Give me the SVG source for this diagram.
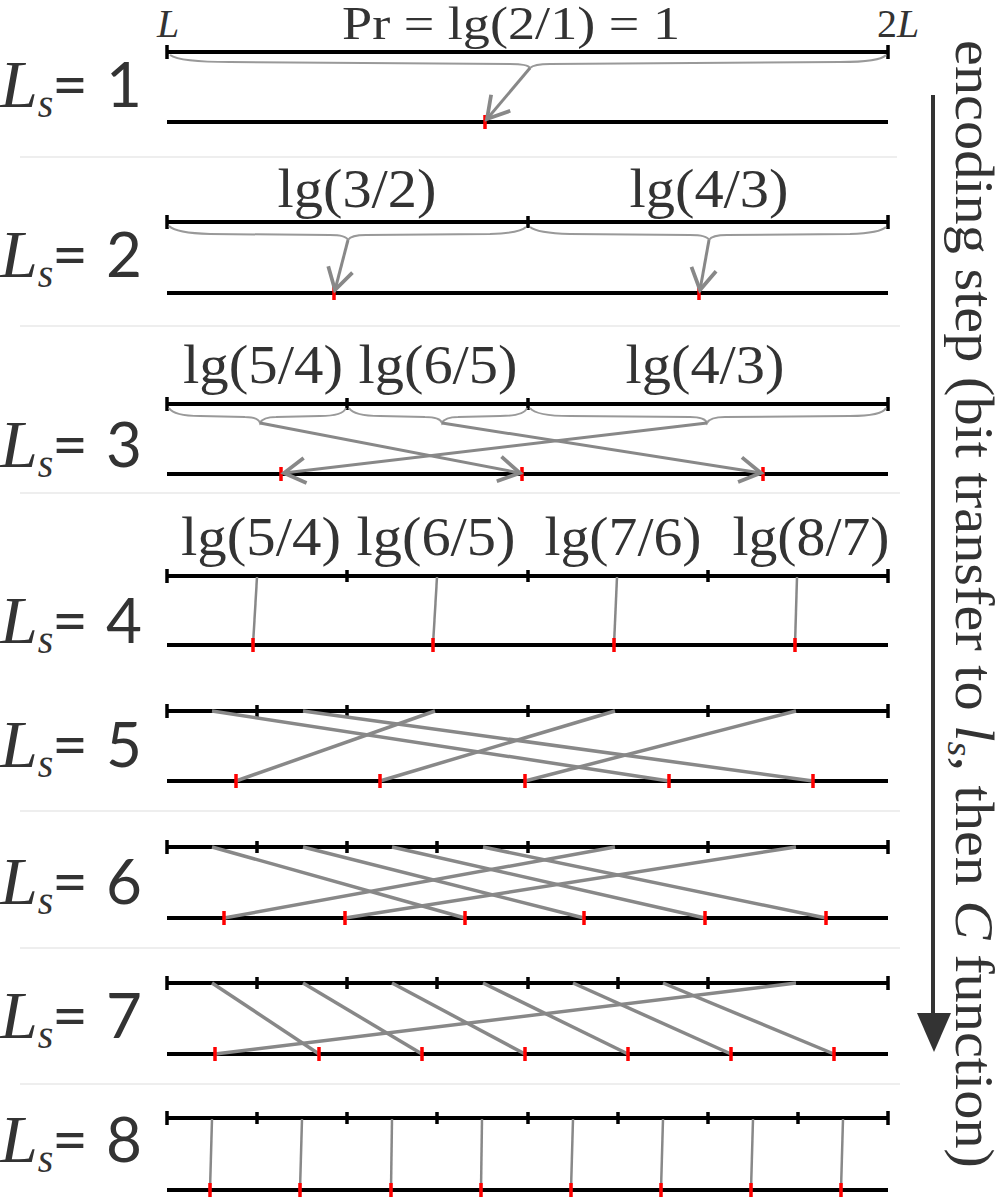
<svg xmlns="http://www.w3.org/2000/svg" width="1005" height="1198" viewBox="0 0 1005 1198">
<style>
.bar{stroke:#000;stroke-width:4;fill:none}
.tk{stroke:#000;stroke-width:3.5}
.rd{stroke:#f00;stroke-width:3.5}
.sep{stroke:#e8e8e8;stroke-width:1.5}
.br{stroke:#999;stroke-width:2;fill:none}
.ln{stroke:#888;stroke-width:3.5;fill:none}
.ln4{stroke:#888;stroke-width:2.5;fill:none}
.ar{stroke:#888;stroke-width:3;fill:none;marker-end:url(#ah)}
.lab{font-family:"Liberation Serif",serif;font-size:54px;fill:#333}
.big{font-family:"Liberation Serif",serif;font-size:68px;fill:#333;font-style:italic}
.sub{font-size:40px}
.num{font-family:Lato,"Liberation Sans",sans-serif;font-style:normal;font-size:62px}
</style>
<defs>
<marker id="ah" markerUnits="userSpaceOnUse" markerWidth="30" markerHeight="30" refX="20" refY="12" orient="auto" viewBox="0 0 24 24">
<path d="M3,2 L20,12 L3,22" fill="none" stroke="#888" stroke-width="3"/>
</marker>
</defs>
<rect width="1005" height="1198" fill="#fff"/>

<g id="separators">
<line class="sep" x1="20" y1="157" x2="897" y2="157"/>
<line class="sep" x1="20" y1="326" x2="900" y2="326"/>
<line class="sep" x1="20" y1="493" x2="900" y2="493"/>
<line class="sep" x1="20" y1="811" x2="900" y2="811"/>
<line class="sep" x1="20" y1="948" x2="900" y2="948"/>
<line class="sep" x1="20" y1="1084" x2="900" y2="1084"/>
</g>

<g id="row1">
<text class="big" x="0" y="107">L<tspan class="sub" dy="10">s</tspan><tspan class="num" x="52" dy="-10">=</tspan><tspan class="num" x="106">1</tspan></text>
<text class="lab" x="157" y="37" font-style="italic" style="font-size:40px">L</text>
<text class="lab" x="877" y="37" style="font-size:40px">2<tspan font-style="italic">L</tspan></text>
<text class="lab" x="342" y="39" style="font-size:46px" textLength="338" lengthAdjust="spacingAndGlyphs">Pr = lg(2/1) = 1</text>
<line class="bar" x1="167" y1="52" x2="888" y2="52"/>
<line class="tk" x1="167" y1="45" x2="167" y2="59"/>
<line class="tk" x1="888" y1="45" x2="888" y2="59"/>
<path class="br" d="M170,55 Q180,62 230,62 L510,64 Q528,64 530,68 Q534,64 550,64 L840,62 Q880,62 886,55"/>
<line class="bar" x1="167" y1="122" x2="888" y2="122"/>
<line class="rd" x1="485" y1="115" x2="485" y2="129"/>
</g>

<g id="row2">
<text class="big" x="0" y="277">L<tspan class="sub" dy="10">s</tspan><tspan class="num" x="52" dy="-10">=</tspan><tspan class="num" x="106">2</tspan></text>
<text class="lab" x="357" y="207" text-anchor="middle" textLength="159" lengthAdjust="spacingAndGlyphs">lg(3/2)</text>
<text class="lab" x="709" y="207" text-anchor="middle" textLength="159" lengthAdjust="spacingAndGlyphs">lg(4/3)</text>
<line class="bar" x1="167" y1="222" x2="888" y2="222"/>
<line class="tk" x1="167" y1="215" x2="167" y2="229"/>
<line class="tk" x1="528" y1="216" x2="528" y2="228"/>
<line class="tk" x1="888" y1="215" x2="888" y2="229"/>
<path class="br" d="M169,226 Q176,233 210,234 L330,235 Q346,235 348,240 Q351,235 366,235 L490,234 Q520,233 526,227"/>
<path class="br" d="M530,227 Q537,233 570,234 L690,235 Q707,235 709,240 Q712,235 727,235 L850,234 Q880,233 886,227"/>
<line class="bar" x1="167" y1="293" x2="888" y2="293"/>
<line class="rd" x1="334" y1="286" x2="334" y2="300"/>
<line class="rd" x1="699" y1="286" x2="699" y2="300"/>
</g>

<g id="row3">
<text class="big" x="0" y="467">L<tspan class="sub" dy="10">s</tspan><tspan class="num" x="52" dy="-10">=</tspan><tspan class="num" x="106">3</tspan></text>
<text class="lab" x="263" y="383" text-anchor="middle" textLength="160" lengthAdjust="spacingAndGlyphs">lg(5/4)</text>
<text class="lab" x="438" y="383" text-anchor="middle" textLength="159" lengthAdjust="spacingAndGlyphs">lg(6/5)</text>
<text class="lab" x="705" y="383" text-anchor="middle" textLength="159" lengthAdjust="spacingAndGlyphs">lg(4/3)</text>
<line class="bar" x1="167" y1="404" x2="888" y2="404"/>
<line class="tk" x1="167" y1="397" x2="167" y2="411"/>
<line class="tk" x1="347" y1="398" x2="347" y2="410"/>
<line class="tk" x1="528" y1="398" x2="528" y2="410"/>
<line class="tk" x1="888" y1="397" x2="888" y2="411"/>
<path class="br" d="M169,408 Q174,416 200,416 L245,417 Q258,417 260,423 Q263,417 276,417 L320,416 Q343,416 346,408"/>
<path class="br" d="M349,408 Q354,416 380,416 L425,417 Q440,417 442,423 Q445,417 458,417 L500,416 Q524,416 527,408"/>
<path class="br" d="M530,408 Q536,416 570,416 L690,417 Q705,417 707,423 Q710,417 725,417 L850,416 Q882,416 886,408"/>
<line class="bar" x1="167" y1="474" x2="888" y2="474"/>
<line class="rd" x1="281" y1="467" x2="281" y2="481"/>
<line class="rd" x1="522" y1="467" x2="522" y2="481"/>
<line class="rd" x1="763" y1="467" x2="763" y2="481"/>
</g>

<g id="row4">
<text class="big" x="0" y="643">L<tspan class="sub" dy="10">s</tspan><tspan class="num" x="52" dy="-10">=</tspan><tspan class="num" x="106">4</tspan></text>
<text class="lab" x="261" y="555" text-anchor="middle" textLength="160" lengthAdjust="spacingAndGlyphs">lg(5/4)</text>
<text class="lab" x="436" y="555" text-anchor="middle" textLength="159" lengthAdjust="spacingAndGlyphs">lg(6/5)</text>
<text class="lab" x="623" y="555" text-anchor="middle" textLength="157" lengthAdjust="spacingAndGlyphs">lg(7/6)</text>
<text class="lab" x="811" y="555" text-anchor="middle" textLength="157" lengthAdjust="spacingAndGlyphs">lg(8/7)</text>
<line class="bar" x1="167" y1="576" x2="888" y2="576"/>
<line class="tk" x1="167" y1="569" x2="167" y2="583"/>
<line class="tk" x1="347" y1="570" x2="347" y2="582"/>
<line class="tk" x1="528" y1="570" x2="528" y2="582"/>
<line class="tk" x1="708" y1="570" x2="708" y2="582"/>
<line class="tk" x1="888" y1="569" x2="888" y2="583"/>
<line class="bar" x1="167" y1="645" x2="888" y2="645"/>
</g>

<g id="row5">
<text class="big" x="0" y="767">L<tspan class="sub" dy="10">s</tspan><tspan class="num" x="52" dy="-10">=</tspan><tspan class="num" x="106">5</tspan></text>
<line class="bar" x1="167" y1="711" x2="888" y2="711"/>
<line class="tk" x1="167" y1="704" x2="167" y2="718"/>
<line class="tk" x1="257" y1="705" x2="257" y2="717"/>
<line class="tk" x1="347" y1="705" x2="347" y2="717"/>
<line class="tk" x1="528" y1="705" x2="528" y2="717"/>
<line class="tk" x1="708" y1="705" x2="708" y2="717"/>
<line class="tk" x1="888" y1="704" x2="888" y2="718"/>
<line class="bar" x1="167" y1="781" x2="888" y2="781"/>
</g>

<g id="row6">
<text class="big" x="0" y="904">L<tspan class="sub" dy="10">s</tspan><tspan class="num" x="52" dy="-10">=</tspan><tspan class="num" x="106">6</tspan></text>
<line class="bar" x1="167" y1="847" x2="888" y2="847"/>
<line class="tk" x1="167" y1="840" x2="167" y2="854"/>
<line class="tk" x1="257" y1="841" x2="257" y2="853"/>
<line class="tk" x1="347" y1="841" x2="347" y2="853"/>
<line class="tk" x1="437" y1="841" x2="437" y2="853"/>
<line class="tk" x1="528" y1="841" x2="528" y2="853"/>
<line class="tk" x1="708" y1="841" x2="708" y2="853"/>
<line class="tk" x1="888" y1="840" x2="888" y2="854"/>
<line class="bar" x1="167" y1="918" x2="888" y2="918"/>
</g>

<g id="row7">
<text class="big" x="0" y="1038">L<tspan class="sub" dy="10">s</tspan><tspan class="num" x="52" dy="-10">=</tspan><tspan class="num" x="106">7</tspan></text>
<line class="bar" x1="167" y1="983" x2="888" y2="983"/>
<line class="tk" x1="167" y1="976" x2="167" y2="990"/>
<line class="tk" x1="257" y1="977" x2="257" y2="989"/>
<line class="tk" x1="347" y1="977" x2="347" y2="989"/>
<line class="tk" x1="437" y1="977" x2="437" y2="989"/>
<line class="tk" x1="528" y1="977" x2="528" y2="989"/>
<line class="tk" x1="618" y1="977" x2="618" y2="989"/>
<line class="tk" x1="708" y1="977" x2="708" y2="989"/>
<line class="tk" x1="888" y1="976" x2="888" y2="990"/>
<line class="bar" x1="167" y1="1054" x2="888" y2="1054"/>
</g>

<g id="row8">
<text class="big" x="0" y="1162">L<tspan class="sub" dy="10">s</tspan><tspan class="num" x="52" dy="-10">=</tspan><tspan class="num" x="106">8</tspan></text>
<line class="bar" x1="167" y1="1118" x2="888" y2="1118"/>
<line class="tk" x1="167" y1="1111" x2="167" y2="1125"/>
<line class="tk" x1="257" y1="1112" x2="257" y2="1124"/>
<line class="tk" x1="347" y1="1112" x2="347" y2="1124"/>
<line class="tk" x1="437" y1="1112" x2="437" y2="1124"/>
<line class="tk" x1="528" y1="1112" x2="528" y2="1124"/>
<line class="tk" x1="618" y1="1112" x2="618" y2="1124"/>
<line class="tk" x1="708" y1="1112" x2="708" y2="1124"/>
<line class="tk" x1="798" y1="1112" x2="798" y2="1124"/>
<line class="tk" x1="888" y1="1111" x2="888" y2="1125"/>
<line class="bar" x1="167" y1="1190" x2="888" y2="1190"/>
</g>

<g id="connectors">
<line class="ar" x1="530" y1="68" x2="487" y2="119"/>
<line class="ar" x1="348" y1="240" x2="335" y2="290"/>
<line class="ar" x1="709" y1="240" x2="700" y2="290"/>
<line class="ar" x1="260" y1="423" x2="520" y2="473"/>
<line class="ar" x1="442" y1="423" x2="761" y2="473"/>
<line class="ar" x1="707" y1="423" x2="284" y2="473"/>
<line class="ln4" x1="257" y1="577" x2="253" y2="645"/>
<line class="ln4" x1="437" y1="577" x2="433" y2="645"/>
<line class="ln4" x1="617" y1="577" x2="614" y2="645"/>
<line class="ln4" x1="797" y1="577" x2="795" y2="645"/>
<line class="ln" x1="212" y1="711" x2="669" y2="781"/>
<line class="ln" x1="303" y1="711" x2="813" y2="781"/>
<line class="ln" x1="435" y1="711" x2="236" y2="781"/>
<line class="ln" x1="615" y1="711" x2="380" y2="781"/>
<line class="ln" x1="796" y1="711" x2="525" y2="781"/>
<line class="ln" x1="212" y1="847" x2="465" y2="918"/>
<line class="ln" x1="303" y1="847" x2="584" y2="918"/>
<line class="ln" x1="392" y1="847" x2="705" y2="918"/>
<line class="ln" x1="483" y1="847" x2="826" y2="918"/>
<line class="ln" x1="615" y1="847" x2="224" y2="918"/>
<line class="ln" x1="796" y1="847" x2="345" y2="918"/>
<line class="ln" x1="212" y1="983" x2="319" y2="1054"/>
<line class="ln" x1="303" y1="983" x2="422" y2="1054"/>
<line class="ln" x1="392" y1="983" x2="525" y2="1054"/>
<line class="ln" x1="483" y1="983" x2="628" y2="1054"/>
<line class="ln" x1="573" y1="983" x2="731" y2="1054"/>
<line class="ln" x1="663" y1="983" x2="834" y2="1054"/>
<line class="ln" x1="796" y1="983" x2="215" y2="1054"/>
<line class="ln4" x1="212" y1="1119" x2="210" y2="1190"/>
<line class="ln4" x1="302" y1="1119" x2="300" y2="1190"/>
<line class="ln4" x1="392" y1="1119" x2="391" y2="1190"/>
<line class="ln4" x1="482" y1="1119" x2="481" y2="1190"/>
<line class="ln4" x1="573" y1="1119" x2="571" y2="1190"/>
<line class="ln4" x1="663" y1="1119" x2="661" y2="1190"/>
<line class="ln4" x1="753" y1="1119" x2="751" y2="1190"/>
<line class="ln4" x1="843" y1="1119" x2="841" y2="1190"/>
</g>

<g id="redmarks">
<line class="rd" x1="253" y1="638" x2="253" y2="652"/>
<line class="rd" x1="433" y1="638" x2="433" y2="652"/>
<line class="rd" x1="614" y1="638" x2="614" y2="652"/>
<line class="rd" x1="795" y1="638" x2="795" y2="652"/>
<line class="rd" x1="236" y1="774" x2="236" y2="788"/>
<line class="rd" x1="380" y1="774" x2="380" y2="788"/>
<line class="rd" x1="525" y1="774" x2="525" y2="788"/>
<line class="rd" x1="669" y1="774" x2="669" y2="788"/>
<line class="rd" x1="813" y1="774" x2="813" y2="788"/>
<line class="rd" x1="224" y1="911" x2="224" y2="925"/>
<line class="rd" x1="345" y1="911" x2="345" y2="925"/>
<line class="rd" x1="465" y1="911" x2="465" y2="925"/>
<line class="rd" x1="584" y1="911" x2="584" y2="925"/>
<line class="rd" x1="705" y1="911" x2="705" y2="925"/>
<line class="rd" x1="826" y1="911" x2="826" y2="925"/>
<line class="rd" x1="215" y1="1047" x2="215" y2="1061"/>
<line class="rd" x1="319" y1="1047" x2="319" y2="1061"/>
<line class="rd" x1="422" y1="1047" x2="422" y2="1061"/>
<line class="rd" x1="525" y1="1047" x2="525" y2="1061"/>
<line class="rd" x1="628" y1="1047" x2="628" y2="1061"/>
<line class="rd" x1="731" y1="1047" x2="731" y2="1061"/>
<line class="rd" x1="834" y1="1047" x2="834" y2="1061"/>
<line class="rd" x1="210" y1="1183" x2="210" y2="1197"/>
<line class="rd" x1="300" y1="1183" x2="300" y2="1197"/>
<line class="rd" x1="391" y1="1183" x2="391" y2="1197"/>
<line class="rd" x1="481" y1="1183" x2="481" y2="1197"/>
<line class="rd" x1="571" y1="1183" x2="571" y2="1197"/>
<line class="rd" x1="661" y1="1183" x2="661" y2="1197"/>
<line class="rd" x1="751" y1="1183" x2="751" y2="1197"/>
<line class="rd" x1="841" y1="1183" x2="841" y2="1197"/>
</g>

<g id="step-arrow">
<line x1="933" y1="95" x2="933" y2="1018" stroke="#333" stroke-width="4"/>
<polygon points="917,1013 951,1013 934,1052" fill="#333"/>
<text class="lab" transform="translate(956,40) rotate(90)" style="font-size:55px" textLength="1128" lengthAdjust="spacingAndGlyphs">encoding step (bit transfer to <tspan font-style="italic">l</tspan><tspan font-style="italic" font-size="36" dy="8">s</tspan><tspan dy="-8">, then </tspan><tspan font-style="italic">C</tspan> function)</text>
</g>
</svg>
